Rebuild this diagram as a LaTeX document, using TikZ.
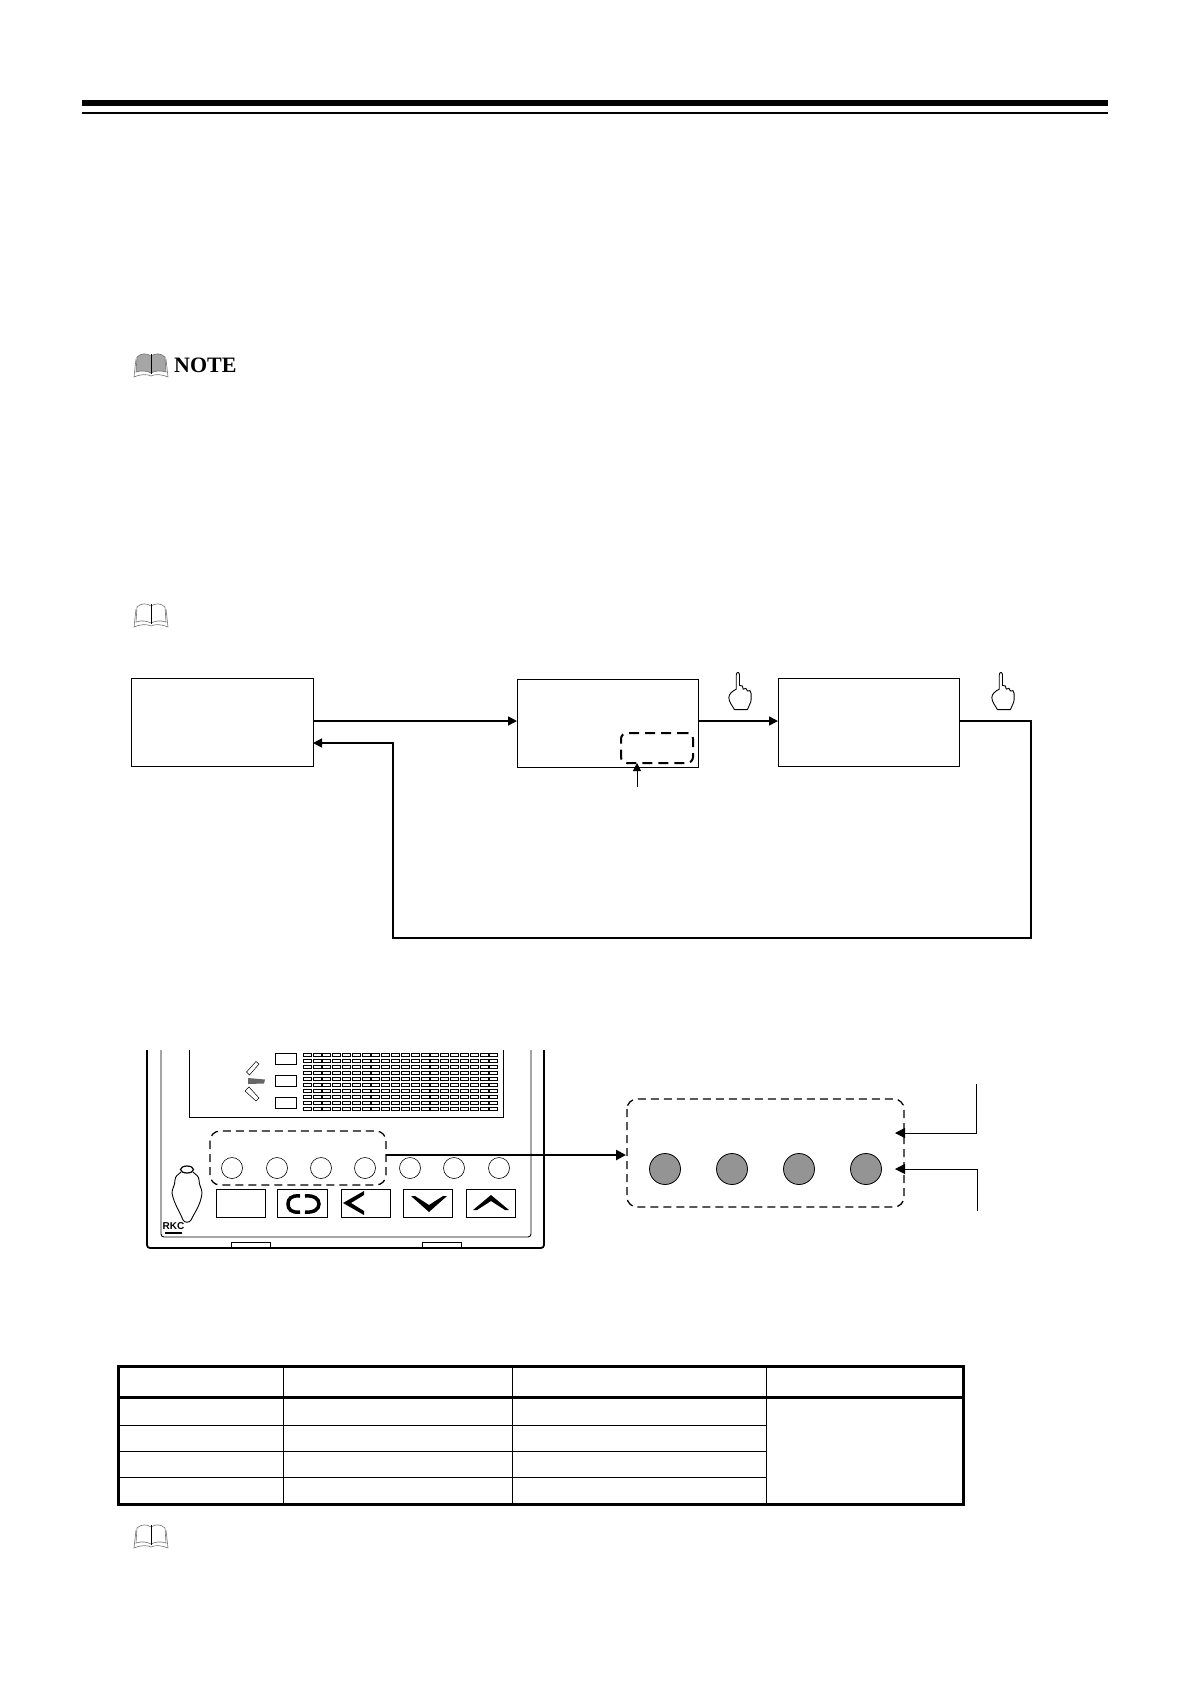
\documentclass[tikz,border=0pt]{standalone}
\usepackage{fontspec}
\setmainfont{Liberation Serif}
\newfontfamily\logofont{Liberation Sans}
\usetikzlibrary{arrows.meta,calc}
\tikzset{
  x=1pt,y=-1pt,
  flowbox/.style={draw,line width=1pt,minimum width=#1,minimum height=88pt,inner sep=0pt,outer sep=0pt},
  conn/.style={line width=1.5pt,-{Triangle[length=9pt,width=9pt]}},
  thinconn/.style={line width=1pt,-{Triangle[length=10pt,width=10pt]}},
  dashbox/.style={draw,line width=1.3pt,dash pattern=on 8pt off 5pt,rounded corners=10pt},
  led/.style={circle,draw,line width=.6pt,minimum size=#1,inner sep=0pt,outer sep=0pt},
  grayled/.style={circle,draw,line width=.8pt,fill=black!42,minimum size=31pt,inner sep=0pt,outer sep=0pt},
  keybox/.style={draw,line width=.9pt,minimum width=49.5pt,minimum height=28pt,inner sep=0pt,outer sep=0pt},
  seg/.style={draw,line width=.5pt},
  bookline/.style={draw=black!55,line width=.6pt},
  handline/.style={draw,line width=.9pt,line join=round},
  tabthick/.style={line width=3pt},
  tabthin/.style={line width=1pt},
  keysym/.style={fill=black,draw=none}
}
\newcommand{\bookicon}[3]{%
  \begin{scope}[shift={(#1,#2)}]
    \path[bookline,fill=#3] (-14,-8) .. controls (-10,-12) and (-4,-12) .. (0,-9)
      .. controls (4,-12) and (10,-12) .. (14,-8) -- (15,7)
      .. controls (9,5) and (4,6) .. (0,8) .. controls (-4,6) and (-9,5) .. (-15,7) -- cycle;
    \path[bookline] (-15,-6) -- (-17,12) .. controls (-10,9) and (-4,9) .. (0,11)
      .. controls (4,9) and (10,9) .. (17,12) -- (15,-6);
    \draw[line width=1pt] (0,-11) -- (0,9);
  \end{scope}}
\newcommand{\handicon}[2]{%
  \begin{scope}[shift={(#1,#2)},scale=.93]
    \path[handline,fill=white] (-4,-2) -- (-4,-17) .. controls (-4,-21) and (-0.5,-21) .. (-0.5,-17)
      -- (-0.5,-6) .. controls (2,-7) and (3.5,-5) .. (3.5,-2)
      .. controls (5,-4) and (8,-3) .. (8,0)
      .. controls (10,-2) and (12,0) .. (12,3) -- (12,9) .. controls (12,13) and (9,16) .. (8,20)
      -- (-6,20) .. controls (-8,16) and (-12,12) .. (-12,7) .. controls (-12,3) and (-8,0) .. (-4,-2) -- cycle;
  \end{scope}}
\begin{document}
\begin{tikzpicture}
\useasboundingbox[fill=white] (0,0) rectangle (1190,1684);
% header rules
\fill[black] (82,100) rectangle (1108,106);
\fill[black] (82,112) rectangle (1108,114);
% note
\bookicon{151}{365}{black!35}
\node[anchor=west,inner sep=0pt,font=\fontsize{22}{24}\selectfont\bfseries] (notelabel) at (174,365) {NOTE};
\bookicon{151}{615}{white}
\bookicon{151}{1536}{white}
% flow
\coordinate (lvl) at (0,721);
\node[flowbox=182pt] (boxa) at (222,722.5) {};
\node[flowbox=181pt] (boxb) at (607.5,723) {};
\node[flowbox=181pt] (boxc) at (868.5,722.5) {};
\node[dashbox,line width=2pt,dash pattern=on 10pt off 6pt,rounded corners=6pt,minimum width=72pt,minimum height=30pt,inner sep=0pt,outer sep=0pt] (boxd) at (657,748) {};
\coordinate (darrow) at (637,787);
\draw[line width=1pt,-{Triangle[length=8pt,width=8pt]}] (darrow) -- (darrow |- boxd.south);
\draw[conn] (boxa.east |- lvl) -- (boxb.west |- lvl);
\draw[conn] (boxb.east |- lvl) -- (boxc.west |- lvl);
\coordinate (ra) at (1031,721);
\coordinate (rb) at (1031,938);
\coordinate (rc) at (393,938);
\coordinate (rd) at (393,743);
\draw[conn] (boxc.east |- lvl) -- (ra) -- (rb) -- (rc) -- (rd) -- (boxa.east |- rd);
\handicon{740}{691}
\handicon{1003}{691}
% device
\draw[line width=1.8pt,rounded corners=3pt] (147,1050) -- (147,1248) -- (544,1248) -- (544,1050);
\draw[line width=.9pt,rounded corners=3pt] (161,1050) -- (161,1237) -- (531,1237) -- (531,1050);
\draw[line width=.9pt] (189,1050) -- (189,1117) -- (503,1117) -- (503,1050);
\draw[line width=.9pt] (231,1247) -- (231,1242) -- (270,1242) -- (270,1247);
\draw[line width=.9pt] (422,1247) -- (422,1242) -- (461,1242) -- (461,1247);
\foreach \yy in {1053,1075,1097} \draw[line width=.8pt] (275,\yy) rectangle (296,\yy+11);
\foreach \r in {0,...,9} \foreach \c in {0,...,19}
  \path[seg] ({303+\c*9.82},{1053.5+\r*5.95}) rectangle ++(8,2.8);
\draw[line width=.5pt] (246.5,1072) -- (256,1061.5) -- (259,1064) -- (249.5,1075) -- cycle;
\fill[black!60] (248,1078) -- (265,1079.5) -- (264,1083.5) -- (248,1084) -- cycle;
\draw[line width=.5pt] (245,1091) -- (249,1087) -- (259,1098) -- (256,1101) -- cycle;
\path[dashbox] (210,1131) rectangle (386,1185);
\node[led=21pt] (l1) at (232,1168) {};
\node[led=21pt] (l2) at (277,1168) {};
\node[led=21pt] (l3) at (321,1168) {};
\node[led=21pt] (l4) at (365,1168) {};
\node[led=21pt] (l5) at (410,1168) {};
\node[led=21pt] (l6) at (454,1168) {};
\node[led=21pt] (l7) at (499,1168) {};
\node[keybox] (k1) at (241,1203) {};
\node[keybox] (k2) at (302.5,1203) {};
\node[keybox] (k3) at (366,1203) {};
\node[keybox] (k4) at (428,1203) {};
\node[keybox] (k5) at (491,1203) {};
% key symbols
\draw[line width=3.5pt] (300,1196) .. controls (291,1195) and (288,1199) .. (288,1204) .. controls (288,1209) and (291,1213) .. (300,1212);
\draw[line width=3.5pt] (305,1196) .. controls (314,1195) and (319,1199) .. (319,1204) .. controls (319,1209) and (314,1213) .. (305,1212);
\fill[keysym] (364,1191) -- (343,1203) -- (364,1215) -- (364,1211) -- (351,1203) -- (364,1195) -- cycle;
\fill[keysym] (411,1196) -- (429,1212) -- (447,1196) -- (443,1196) -- (429,1205) -- (415,1196) -- cycle;
\fill[keysym] (473,1210) -- (491,1195) -- (509,1210) -- (505,1210) -- (491,1201) -- (477,1210) -- cycle;
% key-shaped outline
\draw[line width=.9pt] (181,1172) .. controls (178,1175) and (175,1176) .. (175,1180)
  .. controls (175,1186) and (172,1188) .. (172,1193)
  .. controls (174,1204) and (180,1212) .. (183,1220) .. controls (185,1223) and (189,1223) .. (191,1220)
  .. controls (195,1212) and (201,1204) .. (202,1193) .. controls (202,1188) and (199,1186) .. (199,1180)
  .. controls (199,1176) and (196,1175) .. (193,1172);
\draw[line width=1.2pt] (187,1169.5) ellipse[x radius=6.5pt,y radius=3.5pt];
\node[inner sep=0pt,font=\logofont\fontsize{10}{10}\selectfont\bfseries] (rkclogo) at (173.5,1226) {RKC};
\fill[black] (165,1231.5) rectangle (182,1234);
% big arrow
\coordinate (bigstart) at (386,1155);
\path[dashbox] (627,1099) rectangle (904,1207);
\coordinate (bigend) at (626,1155);
\draw[line width=2.4pt,-{Triangle[length=10pt,width=10pt]}] (bigstart) -- (bigend);
\node[grayled] (g1) at (665,1169) {};
\node[grayled] (g2) at (732,1169) {};
\node[grayled] (g3) at (799,1169) {};
\node[grayled] (g4) at (866,1169) {};
\coordinate (ta) at (976,1084);
\coordinate (tb) at (976,1133);
\coordinate (tc) at (895,1133);
\draw[thinconn] (ta) -- (tb) -- (tc);
\coordinate (ua) at (977,1211);
\coordinate (ub) at (977,1169);
\coordinate (uc) at (895,1169);
\draw[thinconn] (ua) -- (ub) -- (uc);
% table
\draw[tabthick] (118.5,1366.5) rectangle (963,1504.5);
\draw[tabthick] (118.5,1397) -- (963,1397);
\draw[tabthin] (118.5,1425) -- (766,1425);
\draw[tabthin] (118.5,1451) -- (766,1451);
\draw[tabthin] (118.5,1477) -- (766,1477);
\draw[tabthin] (283.5,1366.5) -- (283.5,1504.5);
\draw[tabthin] (512.5,1366.5) -- (512.5,1504.5);
\draw[tabthin] (766,1366.5) -- (766,1504.5);
\end{tikzpicture}
\end{document}
